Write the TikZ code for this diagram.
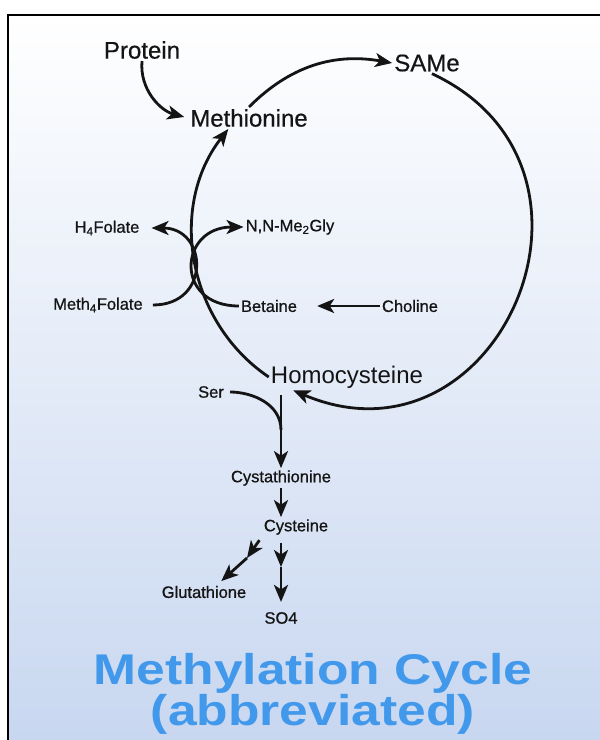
\documentclass[tikz,border=0pt]{standalone}
\usepackage{fontspec}
\setmainfont{Liberation Sans}
\usetikzlibrary{arrows.meta}
\definecolor{ink}{RGB}{20,20,20}
\definecolor{bgmid}{RGB}{229,235,247}
\definecolor{bgbot}{RGB}{200,215,240}
\definecolor{titleblue}{RGB}{66,153,235}

\begin{document}
\begin{tikzpicture}[x=1pt,y=1pt,
        bigtext/.style={text=ink,inner sep=2pt,font=\fontsize{24}{28}\selectfont\addfontfeature{FakeBold=0.5}},
        smalltext/.style={text=ink,inner sep=2pt,font=\fontsize{16.5}{19}\selectfont\addfontfeature{FakeBold=0.8}},
        conn/.style={draw=ink,line width=2.8pt},
        arr/.style={conn,-{Stealth[length=17pt,width=14pt,inset=4.5pt]}}]
        \useasboundingbox (0,0) rectangle (600,-740);
        \shade[top color=white,middle color=bgmid,bottom color=bgbot] (8,-15) rectangle (600,-740);
        \draw[line width=2pt] (8,-740) -- (8,-15) -- (600,-15);

        \node[bigtext] (protein) at (142,-50) {Protein};
        \node[bigtext] (methionine) at (249,-118) {Methionine};
        \node[bigtext] (same) at (427,-63) {SAMe};
        \node[bigtext,font=\fontsize{24}{28}\selectfont] (homocys) at (347,-377) {Homocysteine};
        \node[smalltext] (hfolate) at (107,-228) {H\textsubscript{4}Folate};
        \node[smalltext] (nnmegly) at (290,-227) {N,N-Me\textsubscript{2}Gly};
        \node[smalltext] (methfolate) at (98,-305) {Meth\textsubscript{4}Folate};
        \node[smalltext] (betaine) at (269,-306) {Betaine};
        \node[smalltext] (choline) at (410,-306) {Choline};
        \node[smalltext] (ser) at (211,-392) {Ser};
        \node[smalltext] (cystathionine) at (281,-478) {Cystathionine};
        \node[smalltext] (cysteine) at (296,-527) {Cysteine};
        \node[smalltext] (glutathione) at (204,-592) {Glutathione};
        \node[smalltext] (sulfate) at (281,-618) {SO4};
        \node[text=titleblue,align=center,xscale=1.2,font=\fontsize{43}{34}\selectfont\bfseries] (title) at (313,-694) {Methylation Cycle\\(abbreviated)};

        \coordinate (serjoin) at (281,-430);
        \coordinate (sulfmid) at (281,-567);
        \coordinate (glumid) at (247,-558);

        \draw[arr,shorten >=4pt] (protein.south) to[out=-95,in=165] (methionine.west);
        \draw[arr] (methionine.north) to[out=45,in=170] (same.west);
        \draw[arr] (same.-65) to[out=-25,in=-23,looseness=1.65] (homocys.-166);
        \draw[arr] (homocys.west) to[out=146,in=-128] (methionine.-152);
        \draw[arr,shorten <=8pt,shorten >=10pt] (methfolate.east) to[out=0,in=0,looseness=2.2] (hfolate.east);
        \draw[arr] (betaine.west) to[out=180,in=180,looseness=2.1] (nnmegly.west);
        \draw[arr,shorten >=18pt] (choline.west) -- (betaine.east);
        \draw[conn,shorten <=4pt] (ser.east) to[out=0,in=90] (serjoin);
        \draw[arr,shorten <=5pt] (homocys.south -| cystathionine.north) -- (cystathionine.north);
        \draw[arr] (cystathionine.south) -- (cystathionine.south |- cysteine.north);
        \draw[arr,shorten <=6pt] (cysteine.south -| sulfate.north) -- (sulfmid);
        \draw[arr,shorten >=8pt] (sulfmid) -- (sulfate.north);
        \draw[arr,shorten <=4pt] (cysteine.south west) -- (glumid);
        \draw[arr,shorten >=4pt] (glumid) -- (glutathione.30);
    \end{tikzpicture}
\end{document}
